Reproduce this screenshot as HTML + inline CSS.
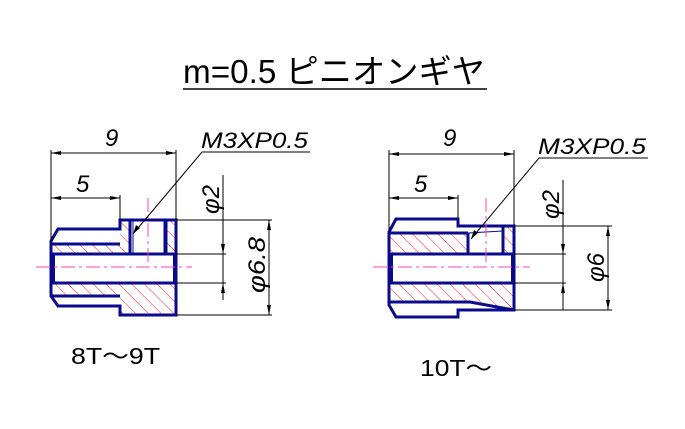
<!DOCTYPE html>
<html><head><meta charset="utf-8"><style>
html,body{margin:0;padding:0;background:#fff;width:685px;height:429px;overflow:hidden}
svg{display:block}
.t{font-family:"Liberation Sans","Noto Sans CJK JP",sans-serif;fill:#000}
.dim{stroke:#000;stroke-width:1;fill:none}
.o{stroke:#0a0a8c;stroke-width:3;fill:none;stroke-linejoin:miter}
.c{stroke:#ff40c0;stroke-width:1;stroke-dasharray:14 4 3 4}
</style></head><body>
<svg width="685" height="429" viewBox="0 0 685 429">
<defs>
<pattern id="h" width="9" height="9" patternUnits="userSpaceOnUse" patternTransform="rotate(-45)">
<line x1="0" y1="0" x2="0" y2="9" stroke="#ff2020" stroke-width="1"/>
</pattern>
</defs>
<text class="t" x="183" y="83" font-size="33" textLength="302" lengthAdjust="spacingAndGlyphs">m=0.5 ピニオンギヤ</text>
<line x1="183" y1="89" x2="487" y2="89" stroke="#000" stroke-width="1.5"/>

<!-- LEFT -->
<g>
<rect x="51" y="244" width="69" height="10" fill="url(#h)"/>
<rect x="120" y="220" width="10" height="34" fill="url(#h)"/>
<rect x="166" y="220" width="10" height="34" fill="url(#h)"/>
<rect x="51" y="283" width="69" height="13" fill="url(#h)"/>
<rect x="120" y="283" width="56" height="32" fill="url(#h)"/>
<path class="o" d="M51,241 L58,229 L120,229 L120,220 L176,220 L176,315 L120,315 L120,306 L58,306 L51,296 Z"/>
<line class="o" x1="51" y1="254" x2="176" y2="254"/>
<line class="o" x1="51" y1="283" x2="176" y2="283"/>
<line class="o" x1="51" y1="244" x2="120" y2="244"/>
<line class="o" x1="51" y1="296" x2="120" y2="296"/>
<line class="o" x1="130" y1="220" x2="130" y2="254"/>
<line class="o" x1="166" y1="220" x2="166" y2="254"/>
<line x1="133" y1="220" x2="133" y2="254" stroke="#0a0a8c" stroke-width="1"/>
<line x1="164" y1="220" x2="164" y2="254" stroke="#0a0a8c" stroke-width="1"/>
<rect x="51" y="254" width="4" height="29" fill="#0a0a8c"/>
<rect x="173" y="254" width="4" height="29" fill="#0a0a8c"/>
<line class="c" x1="36" y1="267" x2="192" y2="267"/>
<line class="c" x1="148" y1="198" x2="148" y2="262"/>
<path class="dim" d="M51,150 V242 M176,150 V219 M120,195 V219 M51,153 H176 M51,198 H120"/>
<path d="M51,153 l10,-2 v4z M176,153 l-10,-2 v4z M51,198 l10,-2 v4z M120,198 l-10,-2 v4z" fill="#000"/>
<text class="t" x="105" y="146" font-size="24" font-style="italic">9</text>
<text class="t" x="76" y="192" font-size="24" font-style="italic">5</text>
<path class="dim" d="M310,152 H202 L133,234"/>
<path d="M133,234 l3,-9 l4,3z" fill="#000"/>
<text class="t" x="201" y="148" font-size="22" font-style="italic" textLength="107" lengthAdjust="spacingAndGlyphs">M3XP0.5</text>
<path class="dim" d="M176,254 H226 M176,283 H226 M223,175 V300 M176,220 H272 M176,315 H272 M269,220 V315"/>
<path d="M223,254 l-2,-10 h4z M223,283 l-2,10 h4z M269,220 l-2,10 h4z M269,315 l-2,-10 h4z" fill="#000"/>
<text class="t" font-size="24" font-style="italic" transform="translate(219,214) rotate(-90)">φ2</text>
<text class="t" font-size="24" font-style="italic" transform="translate(265,293) rotate(-90)" textLength="56" lengthAdjust="spacingAndGlyphs">φ6.8</text>
</g>

<!-- RIGHT -->
<g>
<rect x="389" y="233" width="79" height="21" fill="url(#h)"/>
<rect x="503" y="226" width="11" height="28" fill="url(#h)"/>
<path d="M389,283 H514 V310 L470,302 H389 Z" fill="url(#h)"/>
<path class="o" d="M389,232 L396,219 L458,219 L458,226 L514,226 L514,310 L470,310 L458,310 L458,317 L396,317 L389,305 Z"/>
<line class="o" x1="389" y1="233" x2="468" y2="233"/>
<line class="o" x1="389" y1="254" x2="514" y2="254"/>
<line class="o" x1="389" y1="283" x2="514" y2="283"/>
<path class="o" d="M389,302 H470 L514,310"/>
<line class="o" x1="468" y1="233" x2="468" y2="254"/>
<line class="o" x1="503" y1="226" x2="503" y2="254"/>
<line x1="468" y1="233" x2="503" y2="231" stroke="#0a0a8c" stroke-width="1"/>
<rect x="389" y="254" width="4" height="29" fill="#0a0a8c"/>
<rect x="511" y="254" width="4" height="29" fill="#0a0a8c"/>
<line class="c" x1="373" y1="267" x2="530" y2="267"/>
<line class="c" x1="486" y1="198" x2="486" y2="262"/>
<path class="dim" d="M389,150 V230 M514,150 V225 M458,195 V218 M389,154 H514 M389,198 H458"/>
<path d="M389,154 l10,-2 v4z M514,154 l-10,-2 v4z M389,198 l10,-2 v4z M458,198 l-10,-2 v4z" fill="#000"/>
<text class="t" x="443" y="146" font-size="24" font-style="italic">9</text>
<text class="t" x="414" y="192" font-size="24" font-style="italic">5</text>
<path class="dim" d="M648,158 H539 L471,239"/>
<path d="M471,239 l3,-9 l4,3z" fill="#000"/>
<text class="t" x="538" y="154" font-size="22" font-style="italic" textLength="108" lengthAdjust="spacingAndGlyphs">M3XP0.5</text>
<path class="dim" d="M514,254 H566 M514,283 H566 M563,180 V310 M514,226 H612 M514,310 H612 M608,226 V310"/>
<path d="M563,254 l-2,-10 h4z M563,283 l-2,10 h4z M608,226 l-2,10 h4z M608,310 l-2,-10 h4z" fill="#000"/>
<text class="t" font-size="24" font-style="italic" transform="translate(559,219) rotate(-90)">φ2</text>
<text class="t" font-size="24" font-style="italic" transform="translate(604,282) rotate(-90)">φ6</text>
</g>

<text class="t" x="71" y="364" font-size="23" textLength="89" lengthAdjust="spacingAndGlyphs">8T～9T</text>
<text class="t" x="420" y="376" font-size="23" textLength="72" lengthAdjust="spacingAndGlyphs">10T～</text>
</svg>
</body></html>
